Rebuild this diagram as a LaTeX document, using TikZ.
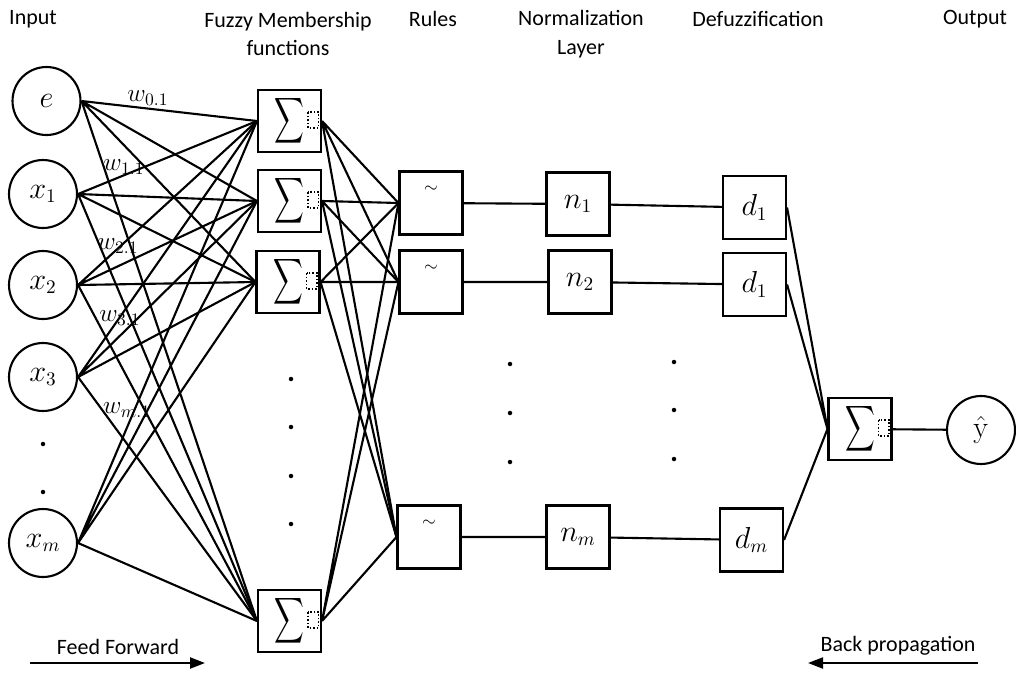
\documentclass[tikz,border=0pt]{standalone}
\usepackage[no-math]{fontspec}
\setmainfont{Carlito}
\usepackage{amsmath}
\usetikzlibrary{arrows,arrows.meta,shapes,positioning}

\begin{document}
\begin{tikzpicture}[x=0.02cm, y=0.02cm,
                every node/.style={inner sep=0pt},
                inp/.style={draw, circle, line width=1.2pt, minimum size=1.36cm, font=\fontsize{16}{18}\selectfont},
                sumbox/.style={draw, rectangle, line width=1.2pt, minimum width=1.26cm, minimum height=1.24cm, font=\fontsize{16}{18}\selectfont,
                    path picture={\draw[densely dotted, line width=1pt] ([xshift=-0.26cm,yshift=0.18cm]path picture bounding box.east) rectangle ([xshift=-0.05cm,yshift=-0.14cm]path picture bounding box.east);}},
                layerbox/.style={draw, rectangle, line width=1.2pt, minimum width=1.26cm, minimum height=1.26cm, font=\fontsize{16}{18}\selectfont},
                rulebox/.style={layerbox, label={[label distance=-0.44cm, font=\normalsize]north:{$\sim$}}},
                head/.style={font=\fontsize{12.5}{16.4}\selectfont, align=center},
                wlab/.style={font=\fontsize{14}{16}\selectfont},
                link/.style={line width=1.2pt},
                dot/.style={circle, fill, minimum size=0.09cm}]
                \useasboundingbox (0,0) rectangle (1016,-673);
                % headers
                \node[head] (hin) at (33,-19) {Input};
                \node[head] (hfuzzy) at (288,-34) {Fuzzy Membership\\functions};
                \node[head] (hrules) at (433,-19) {Rules};
                \node[head] (hnorm) at (581,-34) {Normalization\\Layer};
                \node[head] (hdefuzz) at (758,-19) {Defuzzification};
                \node[head] (hout) at (975,-19) {Output};
                % input layer
                \node[inp] (e) at (46.5,-101) {$e$};
                \node[inp] (x1) at (43,-194) {$x_1$};
                \node[inp] (x2) at (43,-285) {$x_2$};
                \node[inp] (x3) at (43,-377) {$x_3$};
                \node[inp] (xm) at (43,-543) {$x_m$};
                \node[dot] (idot1) at (43,-444) {};
                \node[dot] (idot2) at (43,-492) {};
                % membership functions
                \node[sumbox] (s1) at (289.5,-121) {\scalebox{0.68}[1.05]{$\displaystyle\sum$}\hspace{0.1cm}};
                \node[sumbox] (s2) at (289.5,-201) {\scalebox{0.68}[1.05]{$\displaystyle\sum$}\hspace{0.1cm}};
                \node[sumbox] (s3) at (288,-282) {\scalebox{0.68}[1.05]{$\displaystyle\sum$}\hspace{0.1cm}};
                \node[sumbox] (s4) at (289.5,-621) {\scalebox{0.68}[1.05]{$\displaystyle\sum$}\hspace{0.1cm}};
                \node[dot] (sdot1) at (291,-379) {};
                \node[dot] (sdot2) at (291,-427) {};
                \node[dot] (sdot3) at (291,-476) {};
                \node[dot] (sdot4) at (291,-524) {};
                % rules
                \node[rulebox] (r1) at (431,-203) {};
                \node[rulebox] (r2) at (431,-282) {};
                \node[rulebox] (rm) at (429,-537) {};
                \node[dot] (rdot1) at (510,-364) {};
                \node[dot] (rdot2) at (510,-413) {};
                \node[dot] (rdot3) at (510,-462) {};
                % normalization
                \node[layerbox] (n1) at (578,-204) {$n_1$};
                \node[layerbox] (n2) at (580,-282) {$n_2$};
                \node[layerbox] (nm) at (578,-537) {$n_m$};
                \node[dot] (ndot1) at (674,-362) {};
                \node[dot] (ndot2) at (674,-410) {};
                \node[dot] (ndot3) at (674,-459) {};
                % defuzzification
                \node[layerbox] (d1) at (754.5,-207.5) {$d_1$};
                \node[layerbox] (d2) at (754.5,-284.5) {$d_1$};
                \node[layerbox] (dm) at (751.5,-540) {$d_m$};
                % output
                \node[sumbox] (sout) at (860,-429) {\scalebox{0.68}[1.05]{$\displaystyle\sum$}\hspace{0.1cm}};
                \node[inp] (y) at (981,-430) {$\hat{\mathrm{y}}$};
                % input to membership
                \draw[link] (e.east) -- (s1.west) (e.east) -- (s2.west) (e.east) -- (s3.west) (e.east) -- (s4.west);
                \draw[link] (x1.east) -- (s1.west) (x1.east) -- (s2.west) (x1.east) -- (s3.west) (x1.east) -- (s4.west);
                \draw[link] (x2.east) -- (s1.west) (x2.east) -- (s2.west) (x2.east) -- (s3.west) (x2.east) -- (s4.west);
                \draw[link] (x3.east) -- (s1.west) (x3.east) -- (s2.west) (x3.east) -- (s3.west) (x3.east) -- (s4.west);
                \draw[link] (xm.east) -- (s1.west) (xm.east) -- (s2.west) (xm.east) -- (s3.west) (xm.east) -- (s4.west);
                \node[wlab] (w0) at (148,-98) {$w_{0.1}$};
                \node[wlab] (w1) at (124,-167) {$w_{1.1}$};
                \node[wlab] (w2) at (118,-246) {$w_{2.1}$};
                \node[wlab] (w3) at (120,-318) {$w_{3.1}$};
                \node[wlab] (wm) at (127,-410) {$w_{m.1}$};
                % membership to rules
                \draw[link] (s1.east) -- (r1.west) (s1.east) -- (r2.west) (s1.east) -- (rm.west);
                \draw[link] (s2.east) -- (r1.west) (s2.east) -- (r2.west) (s2.east) -- (rm.west);
                \draw[link] (s3.east) -- (r1.west) (s3.east) -- (r2.west) (s3.east) -- (rm.west);
                \draw[link] (s4.east) -- (r1.west) (s4.east) -- (r2.west) (s4.east) -- (rm.west);
                % rules to normalization to defuzzification
                \draw[link] (r1) -- (n1) (r2) -- (n2) (rm) -- (nm);
                \draw[link] (n1) -- (d1) (n2) -- (d2) (nm) -- (dm);
                \draw[link] (d1.east) -- (sout.west) (d2.east) -- (sout.west) (dm.east) -- (sout.west);
                \draw[link] (sout) -- (y);
                % directions
                \node[head] (ff) at (118,-647) {Feed Forward};
                \node[head] (bp) at (898,-646) {Back propagation};
                \coordinate (ffa) at (30,-663);
                \coordinate (ffb) at (205,-663);
                \coordinate (bpa) at (978,-663);
                \coordinate (bpb) at (808,-663);
                \draw[link, -{Triangle[length=0.3cm, width=0.22cm]}] (ffa) -- (ffb);
                \draw[link, -{Triangle[length=0.3cm, width=0.22cm]}] (bpa) -- (bpb);
            \end{tikzpicture}
\end{document}
